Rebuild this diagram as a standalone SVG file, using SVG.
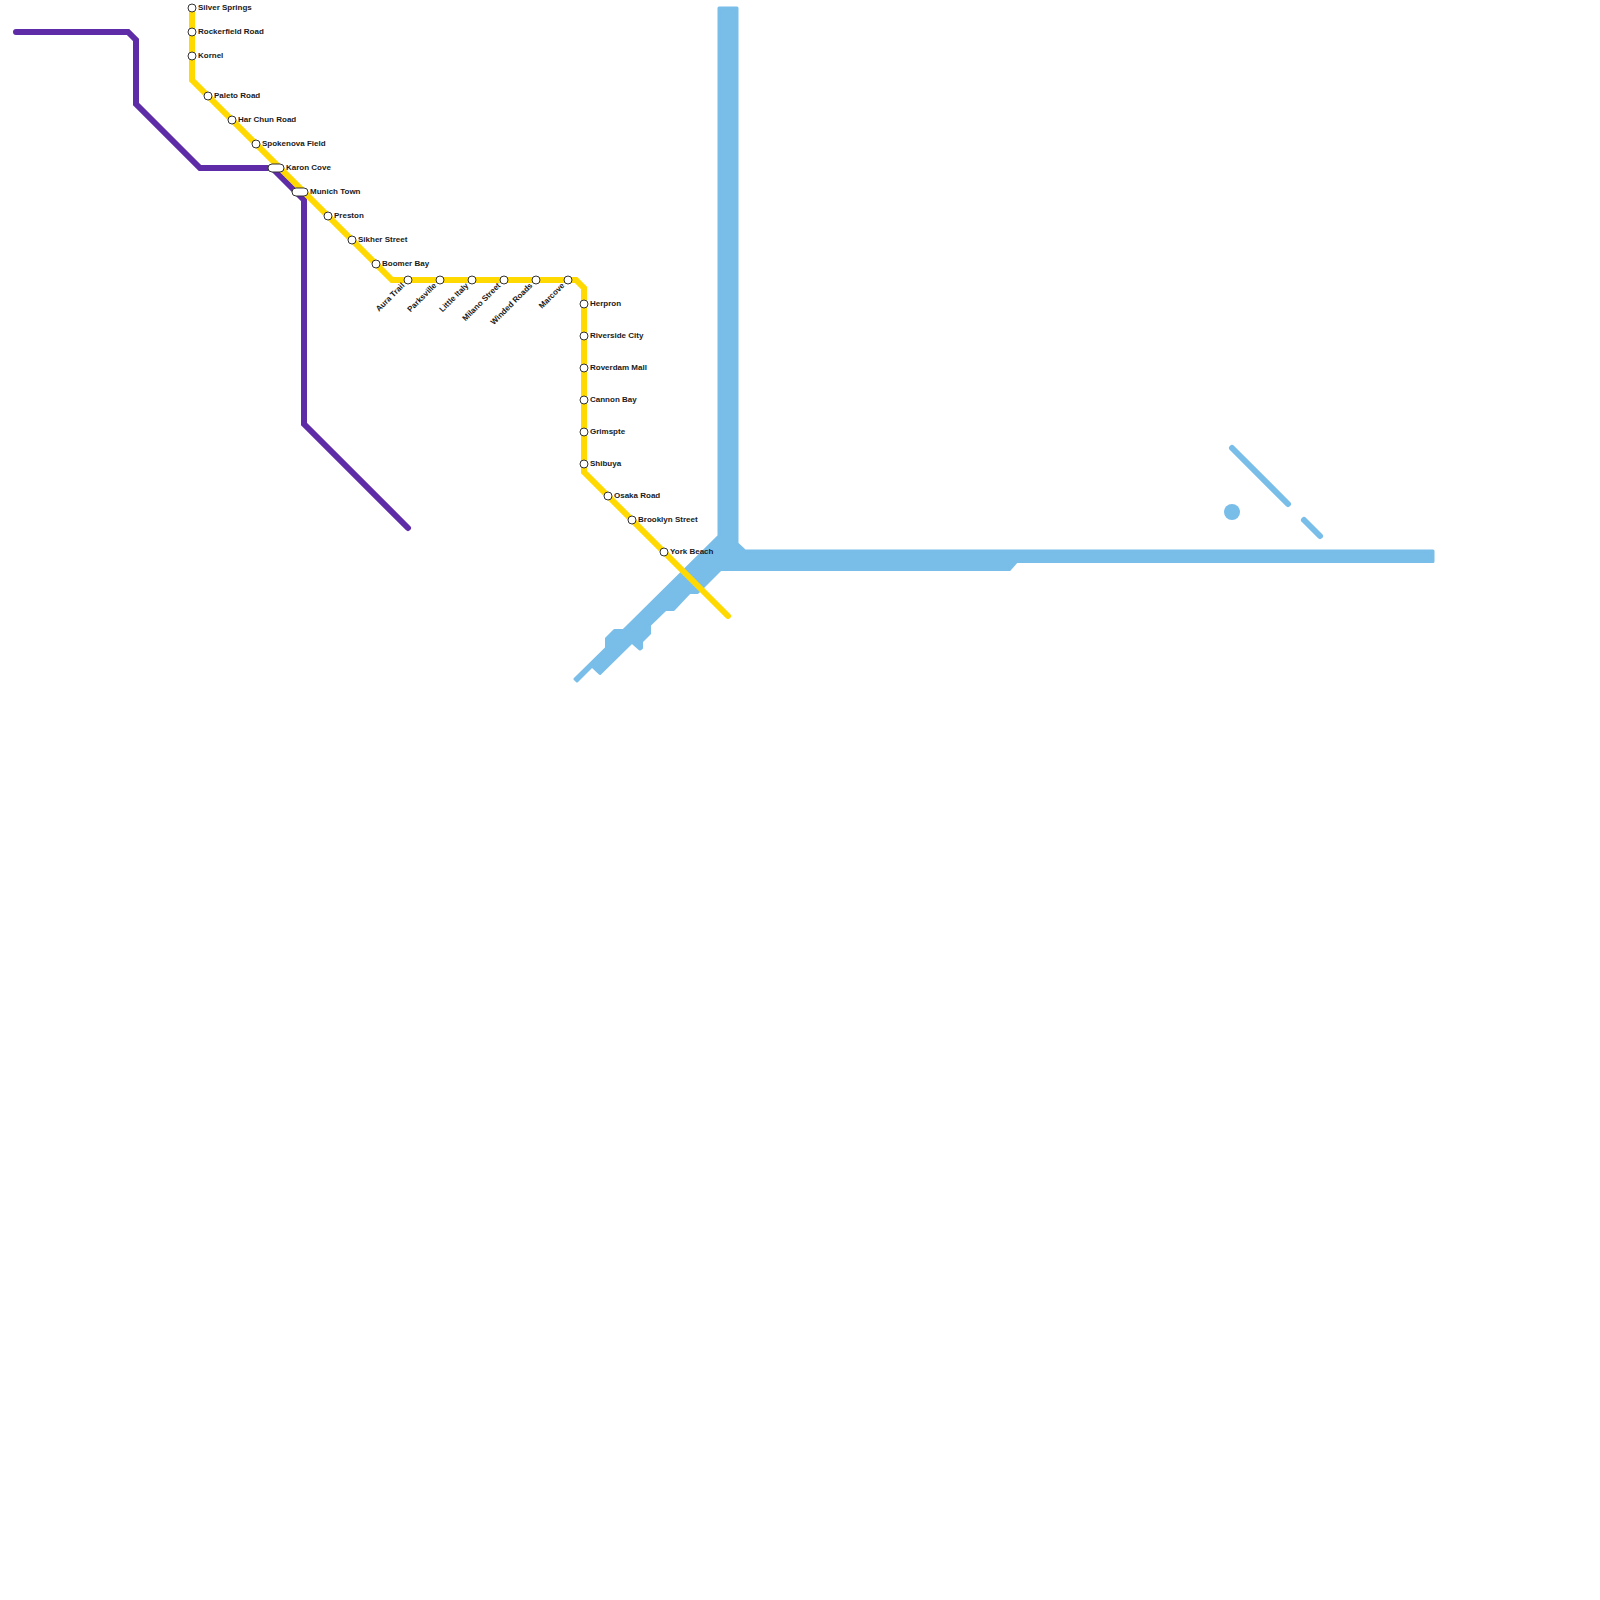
<svg xmlns="http://www.w3.org/2000/svg" width="1600" height="1600" viewBox="0 0 1600 1600">
<style>
.l{fill:none;stroke-linecap:round;stroke-linejoin:miter}
.b{stroke:#79bde9;stroke-width:6}
.p{stroke:#5f2ca8;stroke-width:6}
.y{stroke:#ffd900;stroke-width:6}
.s{fill:#fff;stroke:#333;stroke-width:1}
text{font-family:"Liberation Sans",Arial,sans-serif;font-size:8px;font-weight:700;fill:#1a1a1a}
.r{text-anchor:end}
</style>
<rect width="1600" height="1600" fill="#fff"/>
<g id="connectors">
<path id="blue-mass" fill="#79bde9" stroke="#79bde9" stroke-width="3" stroke-linejoin="round" d="M719 8H737V543.5L745 551H1433V561.5H1016.5L1009.5 569.5H720.5L697.5 592.5H689.5L673.5 609.5H665.5L649.5 625V633.5L641.5 641.5V648L640 649L632 642L600 673.5L592 666L577 681L575 679L606.5 648V638.5L614.5 630.5H623.5L719 536Z"/>
<path class="l b" d="M1232 448L1288 504"/>
<path class="l b" d="M1304 520L1320 536"/>
<circle cx="1232" cy="512" r="8" fill="#79bde9"/>
<path class="l p" d="M16 32H128L136 40V104L200 168H272L296 192L304 200V424L408 528"/>
<path class="l y" d="M192 8V80L392 280H576L584 288V472L728 616"/>
</g>
<g id="silver-springs"><circle class="s" cx="192" cy="8" r="4"/><text x="198" y="10">Silver Springs</text></g>
<g id="rockerfield-road"><circle class="s" cx="192" cy="32" r="4"/><text x="198" y="34">Rockerfield Road</text></g>
<g id="kornel"><circle class="s" cx="192" cy="56" r="4"/><text x="198" y="58">Kornel</text></g>
<g id="paleto-road"><circle class="s" cx="208" cy="96" r="4"/><text x="214" y="98">Paleto Road</text></g>
<g id="har-chun-road"><circle class="s" cx="232" cy="120" r="4"/><text x="238" y="122">Har Chun Road</text></g>
<g id="spokenova-field"><circle class="s" cx="256" cy="144" r="4"/><text x="262" y="146">Spokenova Field</text></g>
<g id="karon-cove"><rect class="s" x="268" y="164" width="16" height="8" rx="4"/><text x="286" y="170">Karon Cove</text></g>
<g id="munich-town"><rect class="s" x="292" y="188" width="16" height="8" rx="4"/><text x="310" y="194">Munich Town</text></g>
<g id="preston"><circle class="s" cx="328" cy="216" r="4"/><text x="334" y="218">Preston</text></g>
<g id="sikher-street"><circle class="s" cx="352" cy="240" r="4"/><text x="358" y="242">Sikher Street</text></g>
<g id="boomer-bay"><circle class="s" cx="376" cy="264" r="4"/><text x="382" y="266">Boomer Bay</text></g>
<g id="aura-trail"><circle class="s" cx="408" cy="280" r="4"/><text class="r" transform="translate(405 286) rotate(-45)">Aura Trail</text></g>
<g id="parksville"><circle class="s" cx="440" cy="280" r="4"/><text class="r" transform="translate(437 286) rotate(-45)">Parksville</text></g>
<g id="little-italy"><circle class="s" cx="472" cy="280" r="4"/><text class="r" transform="translate(469 286) rotate(-45)">Little Italy</text></g>
<g id="milano-street"><circle class="s" cx="504" cy="280" r="4"/><text class="r" transform="translate(501 286) rotate(-45)">Milano Street</text></g>
<g id="winded-roads"><circle class="s" cx="536" cy="280" r="4"/><text class="r" transform="translate(533 286) rotate(-45)">Winded Roads</text></g>
<g id="marcove"><circle class="s" cx="568" cy="280" r="4"/><text class="r" transform="translate(565 286) rotate(-45)">Marcove</text></g>
<g id="herpron"><circle class="s" cx="584" cy="304" r="4"/><text x="590" y="306">Herpron</text></g>
<g id="riverside-city"><circle class="s" cx="584" cy="336" r="4"/><text x="590" y="338">Riverside City</text></g>
<g id="roverdam-mall"><circle class="s" cx="584" cy="368" r="4"/><text x="590" y="370">Roverdam Mall</text></g>
<g id="cannon-bay"><circle class="s" cx="584" cy="400" r="4"/><text x="590" y="402">Cannon Bay</text></g>
<g id="grimspte"><circle class="s" cx="584" cy="432" r="4"/><text x="590" y="434">Grimspte</text></g>
<g id="shibuya"><circle class="s" cx="584" cy="464" r="4"/><text x="590" y="466">Shibuya</text></g>
<g id="osaka-road"><circle class="s" cx="608" cy="496" r="4"/><text x="614" y="498">Osaka Road</text></g>
<g id="brooklyn-street"><circle class="s" cx="632" cy="520" r="4"/><text x="638" y="522">Brooklyn Street</text></g>
<g id="york-beach"><circle class="s" cx="664" cy="552" r="4"/><text x="670" y="554">York Beach</text></g>
</svg>
